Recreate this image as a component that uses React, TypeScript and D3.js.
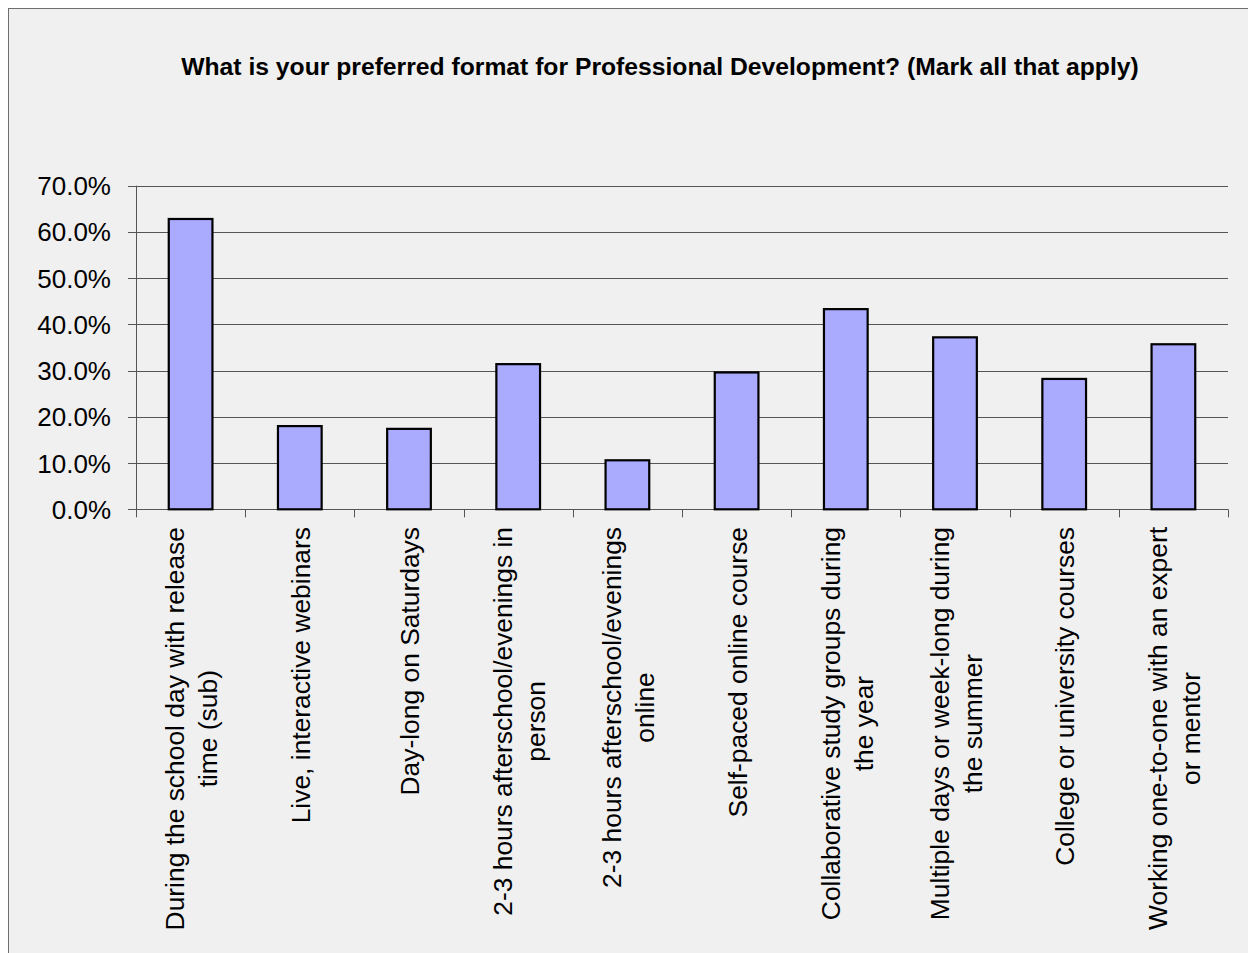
import React, { useEffect, useRef } from 'react';
import * as d3 from 'd3';

const title = 'What is your preferred format for Professional Development? (Mark all that apply)';

const categories: string[][] = [
  ['During the school day with release', 'time (sub)'],
  ['Live, interactive webinars'],
  ['Day-long on Saturdays'],
  ['2-3 hours afterschool/evenings in', 'person'],
  ['2-3 hours afterschool/evenings', 'online'],
  ['Self-paced online course'],
  ['Collaborative study groups during', 'the year'],
  ['Multiple days or week-long during', 'the summer'],
  ['College or university courses'],
  ['Working one-to-one with an expert', 'or mentor'],
];

const values = [62.8, 18.0, 17.4, 31.4, 10.6, 29.6, 43.3, 37.2, 28.2, 35.7];

const yTicks = [0, 10, 20, 30, 40, 50, 60, 70];

const W = 1240;
const H = 945;
const FONT = '"Liberation Sans", Arial, sans-serif';

const App = () => {
  const ref = useRef<SVGSVGElement>(null);

  useEffect(() => {
    const svg = d3.select(ref.current);
    svg.selectAll('*').remove();

    const plot = { left: 128, right: 1220, top: 177.7, bottom: 501.3 };

    const x = d3
      .scaleBand<number>()
      .domain(values.map((_, i) => i))
      .range([plot.left, plot.right])
      .paddingInner(0)
      .paddingOuter(0);
    const y = d3.scaleLinear().domain([0, 70]).range([plot.bottom, plot.top]);

    // chart box (right/bottom edges run off the page)
    svg
      .append('rect')
      .attr('x', 0.5)
      .attr('y', 0.5)
      .attr('width', W + 100)
      .attr('height', H + 100)
      .attr('fill', '#f0f0f0')
      .attr('stroke', '#6e6e6e')
      .attr('stroke-width', 1);

    svg
      .append('text')
      .attr('x', 652)
      .attr('y', 67)
      .attr('text-anchor', 'middle')
      .attr('font-family', FONT)
      .attr('font-weight', 'bold')
      .attr('font-size', 24.7)
      .attr('fill', '#000')
      .text(title);

    // gridlines + y ticks
    const grid = svg.append('g');
    grid
      .selectAll('line')
      .data(yTicks)
      .enter()
      .append('line')
      .attr('x1', plot.left - 8)
      .attr('x2', plot.right)
      .attr('y1', (d) => Math.round(y(d)) + 0.5)
      .attr('y2', (d) => Math.round(y(d)) + 0.5)
      .attr('stroke', '#555')
      .attr('stroke-width', 1);

    grid
      .selectAll('text')
      .data(yTicks)
      .enter()
      .append('text')
      .attr('x', 103)
      .attr('y', (d) => y(d) + 9.5)
      .attr('text-anchor', 'end')
      .attr('font-family', FONT)
      .attr('font-size', 26)
      .attr('fill', '#000')
      .text((d) => d.toFixed(1) + '%');

    // y axis line
    svg
      .append('line')
      .attr('x1', plot.left + 0.5)
      .attr('x2', plot.left + 0.5)
      .attr('y1', plot.top)
      .attr('y2', plot.bottom + 8)
      .attr('stroke', '#555');

    // category ticks
    const bounds = values.map((_, i) => x(i) as number).concat([plot.right]);
    svg
      .append('g')
      .selectAll('line')
      .data(bounds.slice(1))
      .enter()
      .append('line')
      .attr('x1', (d) => Math.round(d) + 0.5)
      .attr('x2', (d) => Math.round(d) + 0.5)
      .attr('y1', plot.bottom)
      .attr('y2', plot.bottom + 8)
      .attr('stroke', '#555');

    // bars
    const bw = x.bandwidth() * 0.4;
    svg
      .append('g')
      .selectAll('rect')
      .data(values)
      .enter()
      .append('rect')
      .attr('x', (_, i) => (x(i) as number) + (x.bandwidth() - bw) / 2)
      .attr('y', (d) => y(d))
      .attr('width', bw)
      .attr('height', (d) => y(0) - y(d))
      .attr('fill', '#aaaaff')
      .attr('stroke', '#000')
      .attr('stroke-width', 2.2);

    // category labels, rotated
    const lineGap = 33;
    categories.forEach((lines, i) => {
      const cx = (x(i) as number) + x.bandwidth() / 2;
      const g = svg.append('g');
      const texts = lines.map((ln, j) =>
        g
          .append('text')
          .attr('x', 0)
          .attr('y', (j - (lines.length - 1) / 2) * lineGap)
          .attr('dy', '0.35em')
          .attr('text-anchor', 'middle')
          .attr('font-family', FONT)
          .attr('font-size', 26.4)
          .attr('fill', '#000')
          .text(ln)
      );
      const maxW = d3.max(texts, (t) => (t.node() as SVGTextElement).getComputedTextLength()) || 0;
      g.attr('transform', `translate(${cx + 1},${519 + maxW / 2}) rotate(-90)`);
    });
  }, []);

  return (
    <svg
      ref={ref}
      width={W}
      height={H}
      style={{ position: 'absolute', left: 8, top: 8, display: 'block' }}
    />
  );
};

export default App;
